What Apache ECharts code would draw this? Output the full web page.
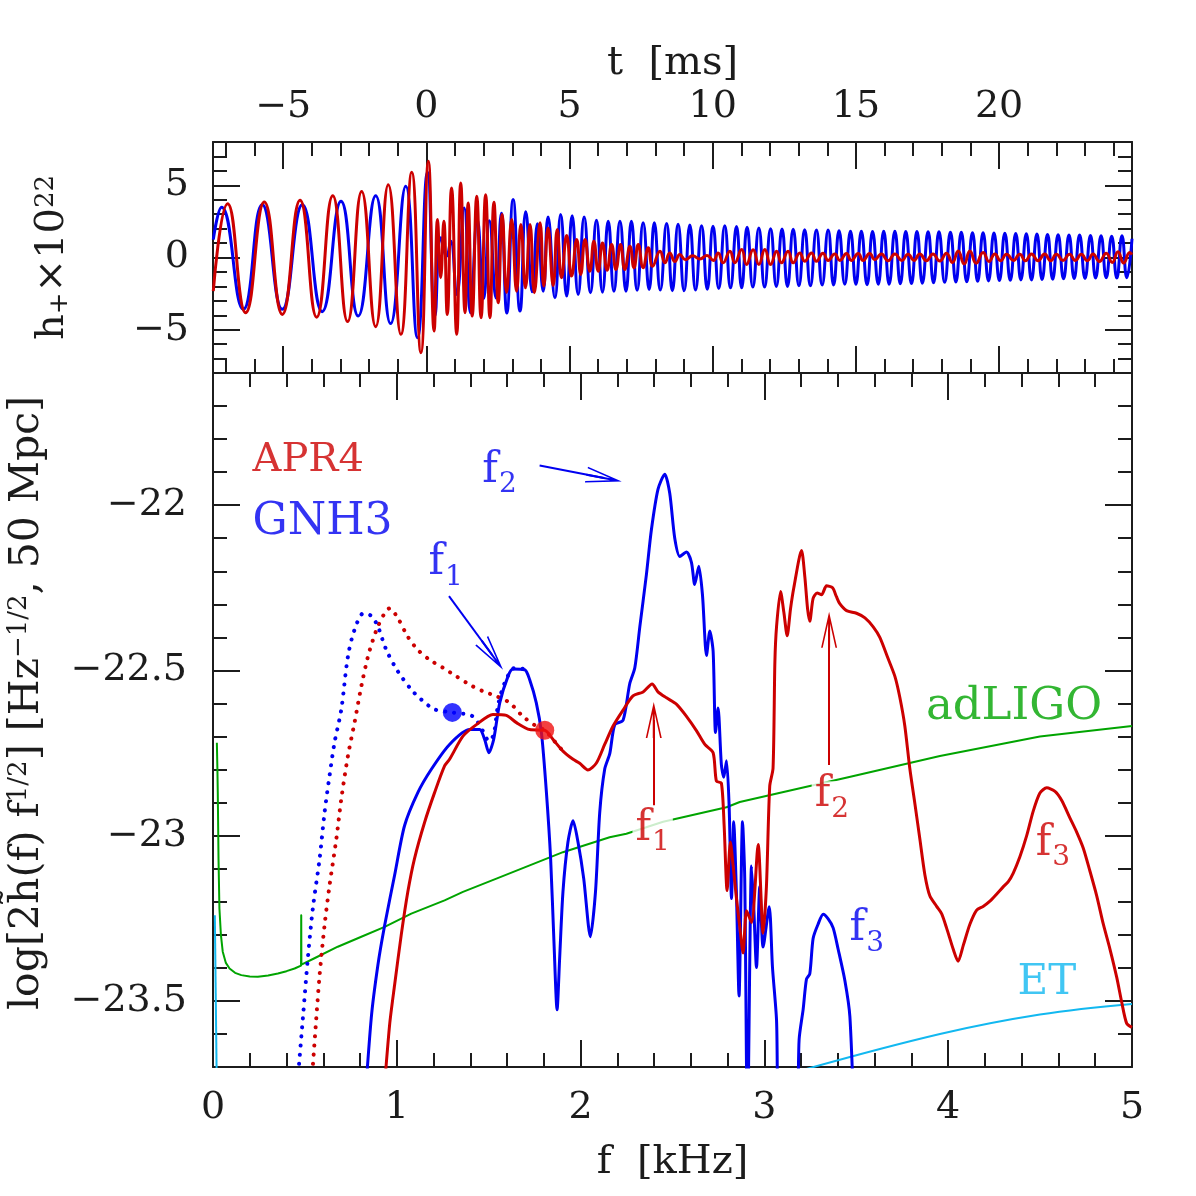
<!DOCTYPE html>
<html>
<head>
<meta charset="utf-8">
<script src="https://cdn.jsdelivr.net/npm/echarts@6.0.0/dist/echarts.min.js"></script>
<style>
  html, body { margin: 0; padding: 0; background: #fff; }
  #chart { width: 1196px; height: 1196px; }
</style>
</head>
<body>
<div id="chart"></div>
<script>
// top panel: h+ waveform, extrema  [t (ms), h x 1e22]
const waveGNH3 = [
  [-7.44,1.24],[-7.15,3.48],[-6.39,-3.59],[-5.73,3.66],[-5.03,-3.59],[-4.33,3.66],[-3.64,-3.75],[-2.98,3.89],
  [-2.38,-4.05],[-1.77,4.28],[-1.25,-4.58],[-0.72,4.93],[-0.31,-5.55],[0.04,5.9],[0.30,-4.05],[0.51,1.36],
  [0.71,0.09],[0.85,1.14],[1.06,-2.56],[1.32,3.43],[1.54,-3.82],[1.78,2.63],[2.00,-2.85],[2.20,2.54],
  [2.43,-2.8],[2.62,3.06],[2.81,-3.85],[3.03,4.01],[3.27,-3.71],[3.47,3.17],[3.70,-2.38],[3.88,2.34],
  [4.08,-2.33],[4.25,2.81],[4.49,-2.79],[4.69,2.97],[4.90,-2.67],[5.09,2.9],[5.30,-2.56],[5.51,2.81],
  [5.73,-2.44],[5.94,2.58],[6.15,-2.4],[6.35,2.51],[6.55,-2.33],[6.76,2.51],[6.97,-2.33],[7.16,2.51],
  [7.36,-2.26],[7.57,2.4],[7.78,-2.21],[7.96,2.4],
  [8.17,-2.25],[8.39,2.35],[8.59,-2.3],[8.79,2.3],[9.00,-2.3],[9.20,2.25],[9.40,-2.25],[9.61,2.2],
  [9.81,-2.2],[10.01,2.17],[10.21,-2.15],[10.42,2.2],[10.62,-2.1],[10.83,2.15],[11.01,-2.1],[11.20,2.1],
  [11.40,-2.05],[11.61,2.05],[11.81,-2.05],[12.02,2.0],[12.22,-2.0],[12.42,1.98],[12.61,-2.0],[12.81,1.95],
  [13.01,-1.95],[13.21,1.92],[13.41,-1.95],[13.62,1.9],[13.82,-1.9],[14.03,1.9],[14.22,-1.9],[14.41,1.85],
  [14.61,-1.85],[14.81,1.82],[15.00,-1.85],[15.19,1.82],[15.39,-1.88],[15.58,1.8],[15.78,-1.85],[15.97,1.82],
  [16.16,-1.85],[16.36,1.82],[16.55,-1.82],[16.74,1.8],[16.94,-1.8],[17.13,1.8],[17.32,-1.78],[17.52,1.78],
  [17.71,-1.75],[17.90,1.78],[18.10,-1.72],[18.30,1.75],[18.49,-1.7],[18.68,1.75],[18.87,-1.68],[19.07,1.72],
  [19.25,-1.65],[19.44,1.72],[19.63,-1.62],[19.82,1.7],[20.01,-1.6],[20.20,1.68],[20.39,-1.58],[20.58,1.66],
  [20.76,-1.55],[20.95,1.65],[21.13,-1.55],[21.32,1.62],[21.50,-1.52],[21.69,1.6],[21.87,-1.5],[22.06,1.58],
  [22.25,-1.48],[22.44,1.56],[22.62,-1.45],[22.81,1.55],[23.00,-1.45],[23.19,1.52],[23.37,-1.42],[23.56,1.5],
  [23.74,-1.4],[23.93,1.48],[24.11,-1.42],[24.29,1.5],[24.46,-1.4],[24.64,1.3]
];
const waveAPR4 = [
  [-7.44,-2.33],[-6.94,3.73],[-6.31,-3.82],[-5.66,3.85],[-5.03,-3.94],[-4.41,3.96],[-3.83,-4.13],[-3.27,4.28],
  [-2.75,-4.44],[-2.26,4.58],[-1.77,-4.79],[-1.33,5.04],[-0.89,-5.32],[-0.51,5.9],[-0.19,-6.59],[0.07,6.66],
  [0.27,-5.09],[0.39,2.63],[0.50,-1.40],[0.61,2.51],[0.73,-3.94],[0.88,4.82],[1.06,-5.32],[1.20,5.16],
  [1.35,-3.82],[1.46,3.78],[1.60,-4.05],[1.76,4.24],[1.91,-4.17],[2.07,4.35],[2.22,-4.17],[2.36,3.82],
  [2.51,-3.13],[2.65,2.97],[2.80,-2.42],[2.98,2.63],[3.15,-2.33],[3.30,2.28],[3.46,-2.1],[3.62,2.28],
  [3.77,-2.44],[3.97,2.4],[4.10,-1.98],[4.25,2.05],[4.43,-1.94],[4.57,1.94],[4.72,-1.4],[4.90,1.52],
  [5.07,-1.29],[5.25,1.24],[5.39,-1.17],[5.54,1.24],[5.71,-0.95],[5.85,1.13],[6.00,-0.95],[6.15,1.01],
  [6.31,-0.88],[6.47,0.9],[6.62,-0.83],[6.78,0.9],[6.93,-0.83],[7.11,0.78],[7.25,-0.71],[7.40,0.9],
  [7.57,-0.71],[7.75,0.67],[7.90,-0.6],[8.16,0.44],[8.33,-0.37],[8.50,0.32],[8.68,-0.28],[8.85,0.2],
  [9.05,-0.15],[9.3,0.12],[9.55,-0.1],[9.8,0.14],[10.02,-0.2],[10.19,0.32],[10.36,-0.37],[10.60,0.44],
  [10.77,-0.37],[11.01,0.55],[11.18,-0.48],[11.41,0.53],[11.61,-0.48],[11.82,0.55],[12.02,-0.48],[12.23,0.44],
  [12.40,-0.37],[12.63,0.44],[12.81,-0.37],[13.04,0.32],[13.21,-0.26],[13.45,0.32],[13.62,-0.26],[13.85,0.3],
  [14.03,-0.2],[14.26,0.24],[14.44,-0.2],[14.67,0.28],[14.84,-0.2],[15.08,0.28],[15.25,-0.2],[15.48,0.28],
  [15.66,-0.15],[15.89,0.25],[16.12,-0.22],[16.36,0.25],[16.6,-0.2],[16.82,0.22],[17.03,-0.2],[17.23,0.25],
  [17.46,-0.22],[17.69,0.25],[17.93,-0.25],[18.16,0.3],[18.37,-0.35],[18.57,0.45],[18.78,-0.45],[18.98,0.45],
  [19.2,-0.4],[19.44,0.35],[19.65,-0.28],[19.85,0.25],[20.05,-0.22],[20.26,0.22],[20.5,-0.2],[20.72,0.22],
  [20.92,-0.22],[21.13,0.25],[21.36,-0.22],[21.59,0.25],[21.8,-0.22],[22.0,0.22],[22.23,-0.2],[22.46,0.22],
  [22.66,-0.2],[22.87,0.22],[23.08,-0.22],[23.28,0.25],[23.5,-0.28],[23.74,0.3],[23.95,-0.35],[24.15,0.4],
  [24.35,-0.38],[24.56,0.35],[24.64,0.2]
];

// bottom panel: spectra  [f (kHz), log value]
const specGNH3 = [
  [0.815,-23.9],[0.861,-23.552],[0.897,-23.392],[0.934,-23.271],[0.988,-23.12],[1.042,-22.97],[1.115,-22.869],
  [1.188,-22.799],[1.287,-22.724],[1.396,-22.679],[1.451,-22.679],[1.478,-22.709],[1.501,-22.749],[1.527,-22.709],
  [1.56,-22.598],[1.605,-22.518],[1.632,-22.496],[1.696,-22.498],[1.723,-22.528],[1.759,-22.598],[1.787,-22.689],
  [1.814,-22.869],[1.837,-23.07],[1.855,-23.321],[1.872,-23.527],[1.886,-23.371],[1.904,-23.17],[1.931,-23.02],
  [1.959,-22.955],[1.986,-23.02],[2.017,-23.13],[2.053,-23.306],[2.081,-23.17],[2.104,-22.93],[2.131,-22.799],
  [2.159,-22.751],[2.186,-22.664],[2.231,-22.651],[2.267,-22.541],[2.295,-22.492],[2.322,-22.369],[2.358,-22.21],
  [2.385,-22.075],[2.421,-21.952],[2.458,-21.906],[2.485,-21.964],[2.512,-22.099],[2.54,-22.155],[2.576,-22.142],
  [2.603,-22.173],[2.621,-22.24],[2.643,-22.185],[2.663,-22.271],[2.685,-22.455],[2.703,-22.381],[2.721,-22.442],
  [2.734,-22.688],[2.748,-22.614],[2.766,-22.786],[2.779,-22.823],[2.794,-22.773],[2.808,-22.908],[2.821,-23.19],
  [2.833,-22.958],[2.848,-23.178],[2.862,-23.485],[2.881,-22.958],[2.893,-23.129],[2.908,-23.9],[2.93,-23.092],
  [2.942,-23.215],[2.957,-23.399],[2.975,-23.154],[2.993,-23.337],[3.026,-23.215],[3.044,-23.399],[3.066,-23.558],
  [3.084,-23.9],[3.17,-23.9],[3.189,-23.616],[3.211,-23.525],[3.229,-23.434],[3.247,-23.418],[3.265,-23.311],
  [3.292,-23.268],[3.32,-23.238],[3.347,-23.252],[3.374,-23.279],[3.401,-23.343],[3.438,-23.439],[3.465,-23.547],
  [3.49,-23.9]
];
const specGNH3Inspiral = [
  [0.452,-23.8],[0.489,-23.552],[0.516,-23.371],[0.543,-23.221],[0.58,-23.07],[0.607,-22.93],[0.634,-22.819],
  [0.661,-22.719],[0.698,-22.618],[0.734,-22.458],[0.77,-22.377],[0.819,-22.327],[0.861,-22.335],[0.897,-22.367],
  [0.943,-22.438],[1.006,-22.503],[1.079,-22.558],[1.133,-22.588],[1.206,-22.618],[1.302,-22.627],[1.414,-22.639],
  [1.469,-22.684],[1.501,-22.714],[1.527,-22.694],[1.55,-22.608],[1.587,-22.538],[1.641,-22.493],[1.696,-22.496]
];
const specAPR4 = [
  [0.92,-23.85],[0.961,-23.572],[0.988,-23.452],[1.024,-23.301],[1.06,-23.17],[1.096,-23.07],[1.151,-22.96],
  [1.206,-22.869],[1.26,-22.789],[1.287,-22.769],[1.36,-22.699],[1.433,-22.664],[1.523,-22.633],[1.596,-22.636],
  [1.651,-22.658],[1.723,-22.679],[1.805,-22.681],[1.85,-22.709],[1.904,-22.744],[1.959,-22.769],[1.995,-22.781],
  [2.04,-22.801],[2.086,-22.78],[2.131,-22.724],[2.176,-22.669],[2.231,-22.62],[2.285,-22.577],[2.34,-22.565],
  [2.389,-22.541],[2.421,-22.565],[2.467,-22.583],[2.521,-22.602],[2.576,-22.639],[2.63,-22.682],[2.676,-22.724],
  [2.721,-22.749],[2.739,-22.835],[2.766,-22.841],[2.781,-22.97],[2.797,-23.166],[2.815,-23.019],[2.83,-23.092],
  [2.848,-23.19],[2.866,-23.276],[2.884,-23.355],[2.903,-23.227],[2.93,-23.263],[2.966,-23.027],[2.993,-23.295],
  [3.011,-23.154],[3.029,-22.85],[3.047,-22.796],[3.057,-22.475],[3.066,-22.368],[3.088,-22.261],[3.106,-22.325],
  [3.124,-22.395],[3.142,-22.314],[3.16,-22.25],[3.202,-22.137],[3.22,-22.217],[3.235,-22.314],[3.247,-22.351],
  [3.265,-22.282],[3.287,-22.266],[3.311,-22.271],[3.338,-22.244],[3.371,-22.25],[3.392,-22.277],[3.41,-22.298],
  [3.447,-22.319],[3.501,-22.327],[3.547,-22.341],[3.592,-22.368],[3.628,-22.4],[3.673,-22.464],[3.71,-22.518],
  [3.737,-22.582],[3.764,-22.668],[3.791,-22.796],[3.819,-22.904],[3.846,-23.011],[3.873,-23.118],[3.9,-23.182],
  [3.937,-23.214],[3.964,-23.236],[3.991,-23.279],[4.027,-23.343],[4.054,-23.38],[4.082,-23.332],[4.118,-23.268],
  [4.155,-23.225],[4.19,-23.214],[4.227,-23.198],[4.263,-23.177],[4.299,-23.155],[4.327,-23.139],[4.354,-23.113],
  [4.39,-23.064],[4.427,-23.0],[4.463,-22.925],[4.499,-22.871],[4.536,-22.855],[4.581,-22.866],[4.617,-22.893],
  [4.662,-22.946],[4.699,-22.989],[4.735,-23.038],[4.771,-23.107],[4.808,-23.182],[4.844,-23.268],[4.88,-23.343],
  [4.917,-23.429],[4.944,-23.504],[4.971,-23.568],[5.0,-23.58]
];
const specAPR4Inspiral = [
  [0.53,-23.8],[0.562,-23.552],[0.58,-23.422],[0.607,-23.271],[0.634,-23.151],[0.671,-23.01],[0.698,-22.889],
  [0.734,-22.759],[0.77,-22.658],[0.807,-22.548],[0.843,-22.458],[0.87,-22.408],[0.897,-22.367],[0.934,-22.327],
  [0.961,-22.312],[1.006,-22.342],[1.06,-22.398],[1.115,-22.438],[1.179,-22.468],[1.251,-22.492],[1.324,-22.518],
  [1.396,-22.543],[1.469,-22.563],[1.542,-22.578],[1.614,-22.598],[1.686,-22.639],[1.759,-22.669],[1.805,-22.681],
  [1.85,-22.709],[1.904,-22.744]
];
const noiseAdLIGO = [
  [0.021,-22.719],[0.024,-22.8],[0.026,-22.869],[0.03,-23.07],[0.035,-23.221],[0.043,-23.3],[0.053,-23.351],
  [0.07,-23.385],[0.09,-23.402],[0.12,-23.415],[0.154,-23.422],[0.2,-23.426],[0.244,-23.427],[0.3,-23.423],
  [0.353,-23.417],[0.4,-23.41],[0.444,-23.402],[0.479,-23.393],[0.48,-23.241],[0.481,-23.39],[0.552,-23.371],
  [0.679,-23.336],[0.807,-23.306],[0.934,-23.276],[1.079,-23.236],[1.26,-23.196],[1.36,-23.17],[1.542,-23.13],
  [1.723,-23.09],[1.904,-23.05],[2.158,-23.005],[2.249,-22.994],[2.449,-22.958],[2.794,-22.914],[2.866,-22.898],
  [3.247,-22.85],[3.456,-22.823],[3.955,-22.759],[4.499,-22.7],[5.0,-22.668]
];
const noiseETLow = [[0.01,-23.241],[0.021,-23.78]];
const noiseETHigh = [[3.19,-23.712],[3.955,-23.6],[4.499,-23.541],[5.0,-23.509]];
const contactGNH3 = [[1.302,-22.627]];
const contactAPR4 = [[1.805,-22.681]];

// ticks
const tMajor = [-5, 0, 5, 10, 15, 20];
const tMinor = [-7,-6,-4,-3,-2,-1,1,2,3,4,6,7,8,9,11,12,13,14,16,17,18,19,21,22,23,24];
const hMajor = [-5, 0, 5];
const hMinor = [-7,-6,-4,-3,-2,-1,1,2,3,4,6,7];
const fMajor = [0, 1, 2, 3, 4, 5];
const fMinor = [0.2,0.4,0.6,0.8,1.2,1.4,1.6,1.8,2.2,2.4,2.6,2.8,3.2,3.4,3.6,3.8,4.2,4.4,4.6,4.8];
const logMajor = [-23.5, -23, -22.5, -22];
const logMinor = [-23.6,-23.4,-23.3,-23.2,-23.1,-22.9,-22.8,-22.7,-22.6,-22.4,-22.3,-22.2,-22.1,-21.9,-21.8,-21.7];

const FONT = 'DejaVu Serif';
const INK = '#1c1c1c';
const RED = '#cc0000', BLUE = '#0000f0', GREEN = '#00a400', CYAN = '#12b8f0';
const T_RANGE = [-7.45, 24.64], H_RANGE = [-8, 8], F_RANGE = [0, 5], L_RANGE = [-23.7, -21.6];

const minus = v => (v < 0 ? '\u2212' + Math.abs(v) : String(v));

function nameRich(size) {
  return {
    m: { fontFamily: FONT, fontSize: size, lineHeight: size, color: INK, padding: [12, 0, 12, 0] },
    sup: { fontFamily: FONT, fontSize: 26, lineHeight: 26, color: INK, verticalAlign: 'top' },
    sub: { fontFamily: FONT, fontSize: 26, lineHeight: 26, color: INK, verticalAlign: 'bottom' }
  };
}

function axis(grid, pos, range, ticks, len, o) {
  o = o || {};
  return {
    type: 'value', gridIndex: grid, position: pos, min: range[0], max: range[1],
    axisLine: { show: !!o.line, onZero: false, lineStyle: { color: INK, width: 2 } },
    axisTick: { show: true, inside: true, length: len, customValues: ticks, lineStyle: { color: INK, width: 2 } },
    axisLabel: o.labels ? {
      show: true, customValues: ticks, formatter: minus, margin: o.margin,
      color: INK, fontFamily: FONT, fontSize: 38
    } : { show: false },
    splitLine: { show: false },
    name: o.name || '', nameLocation: 'middle', nameGap: o.nameGap || 0, nameRotate: o.nameRotate,
    nameTextStyle: { fontFamily: FONT, fontSize: 40, color: INK, padding: o.namePad || 0, rich: nameRich(o.nameSize || 40) }
  };
}

const xAxes = [
  axis(0, 'top', T_RANGE, tMajor, 27, { line: true, labels: true, margin: 16, name: 't\u00a0\u00a0[ms]', nameGap: 58 }),
  axis(0, 'top', T_RANGE, tMinor, 14),
  axis(0, 'bottom', T_RANGE, tMajor, 27, { line: true }),
  axis(0, 'bottom', T_RANGE, tMinor, 14),
  axis(1, 'bottom', F_RANGE, fMajor, 27, { line: true, labels: true, margin: 22, name: 'f\u00a0\u00a0[kHz]', nameGap: 76 }),
  axis(1, 'bottom', F_RANGE, fMinor, 14),
  axis(1, 'top', F_RANGE, fMajor, 27, { line: true }),
  axis(1, 'top', F_RANGE, fMinor, 14)
];
const yAxes = [
  axis(0, 'left', H_RANGE, hMajor, 27, { line: true, labels: true, margin: 24,
    name: '{m|h}{sub|+}{m|\u00d710}{sup|22}', nameGap: 140, nameRotate: 90 }),
  axis(0, 'left', H_RANGE, hMinor, 14),
  axis(0, 'right', H_RANGE, hMajor, 27, { line: true }),
  axis(0, 'right', H_RANGE, hMinor, 14),
  axis(1, 'left', L_RANGE, logMajor, 27, { line: true, labels: true, margin: 26,
    name: '{m|log[2h\u0303(f) f}{sup|1/2}{m|] [Hz}{sup|\u22121/2}{m|, 50 Mpc]}', nameGap: 162, nameRotate: 90,
    nameSize: 41, namePad: [0, 0, 0, 34] }),
  axis(1, 'left', L_RANGE, logMinor, 14),
  axis(1, 'right', L_RANGE, logMajor, 27, { line: true }),
  axis(1, 'right', L_RANGE, logMinor, 14)
];

function curve(data, color, width, o) {
  o = o || {};
  return {
    type: 'line', data: data, xAxisIndex: o.top ? 0 : 4, yAxisIndex: o.top ? 0 : 4,
    showSymbol: false, symbol: 'none', smooth: o.smooth || false, clip: true, silent: true, z: o.z || 3,
    lineStyle: { color: color, width: width, type: o.dotted ? [0.1, 9] : 'solid', cap: o.dotted ? 'round' : 'butt', join: 'round' }
  };
}

const fRich = {
  f: { fontFamily: FONT, fontSize: 42, lineHeight: 42, padding: [0, 1, 14, 0] },
  s: { fontFamily: FONT, fontSize: 28, lineHeight: 28, verticalAlign: 'bottom' }
};
function note(at, text, color, o) {
  o = o || {};
  return {
    type: 'scatter', xAxisIndex: 4, yAxisIndex: 4, data: [at], symbolSize: 1, silent: true, z: 20,
    itemStyle: { color: 'rgba(0,0,0,0)' },
    label: {
      show: true, position: 'inside', formatter: text, color: color, fontFamily: FONT, fontSize: o.size || 42,
      align: o.align || 'center', verticalAlign: 'middle',
      backgroundColor: o.bg || 'transparent', padding: o.bg ? [0, 3] : 0,
      rich: {
        f: Object.assign({ color: color }, fRich.f),
        s: Object.assign({ color: color }, fRich.s)
      }
    }
  };
}

const ARROW = 'path://M8,0 L16,36 L14.4,36 L9,11.7 L9,36 L7,36 L7,11.7 L1.6,36 L0,36 Z';
function arrow(from, to, color) {
  return {
    type: 'line', xAxisIndex: 4, yAxisIndex: 4, data: [], silent: true, z: 18,
    markLine: {
      silent: true, animation: false, symbol: ['none', ARROW], symbolSize: 36,
      label: { show: false }, lineStyle: { color: color, width: 2, type: 'solid' },
      emphasis: { disabled: true },
      data: [[{ coord: from }, { coord: to, symbol: ARROW, symbolSize: [16, 36] }]]
    }
  };
}

const option = {
  animation: false,
  backgroundColor: '#fff',
  grid: [
    { left: 213, top: 142, width: 919, height: 231, containLabel: false, outerBoundsMode: 'none' },
    { left: 213, top: 373, width: 919, height: 694, containLabel: false, outerBoundsMode: 'none' }
  ],
  xAxis: xAxes,
  yAxis: yAxes,
  series: [
    curve(waveGNH3, BLUE, 3, { top: true, smooth: 0.5 }),
    curve(waveAPR4, RED, 3, { top: true, smooth: 0.5, z: 4 }),

    curve(noiseAdLIGO, GREEN, 2),
    curve(noiseETLow, CYAN, 2),
    curve(noiseETHigh, CYAN, 2, { smooth: 0.4 }),
    curve(specAPR4Inspiral, RED, 4, { dotted: true, smooth: 0.3, z: 4 }),
    curve(specGNH3Inspiral, BLUE, 4, { dotted: true, smooth: 0.3, z: 4 }),
    curve(specGNH3, BLUE, 3, { smooth: 0.25, z: 5 }),
    curve(specAPR4, RED, 3, { smooth: 0.25, z: 6 }),
    { type: 'scatter', xAxisIndex: 4, yAxisIndex: 4, data: contactGNH3, symbolSize: 19, silent: true, z: 8, itemStyle: { color: '#0000ff' } },
    { type: 'scatter', xAxisIndex: 4, yAxisIndex: 4, data: contactAPR4, symbolSize: 19, silent: true, z: 8, itemStyle: { color: '#f01010' } },

    arrow([1.777, -21.88], [2.128, -21.918], BLUE),
    arrow([1.284, -22.275], [1.52, -22.454], BLUE),
    arrow([2.398, -22.908], [2.398, -22.65], RED),
    arrow([3.352, -22.786], [3.352, -22.377], RED),

    note([0.215, -21.865], 'APR4', RED, { align: 'left', size: 40 }),
    note([0.215, -22.052], 'GNH3', BLUE, { align: 'left', size: 44 }),
    note([1.559, -21.917], '{f|f}{s|2}', BLUE),
    note([1.266, -22.197], '{f|f}{s|1}', BLUE),
    note([2.392, -23.001], '{f|f}{s|1}', RED, { bg: '#fff' }),
    note([3.367, -22.899], '{f|f}{s|2}', RED, { bg: '#fff' }),
    note([4.57, -23.046], '{f|f}{s|3}', RED),
    note([3.557, -23.305], '{f|f}{s|3}', BLUE),
    note([4.358, -22.613], 'adLIGO', GREEN, { size: 45 }),
    note([4.537, -23.447], 'ET', CYAN)
  ]
};

const chart = echarts.init(document.getElementById('chart'));
chart.setOption(option);
</script>
</body>
</html>
